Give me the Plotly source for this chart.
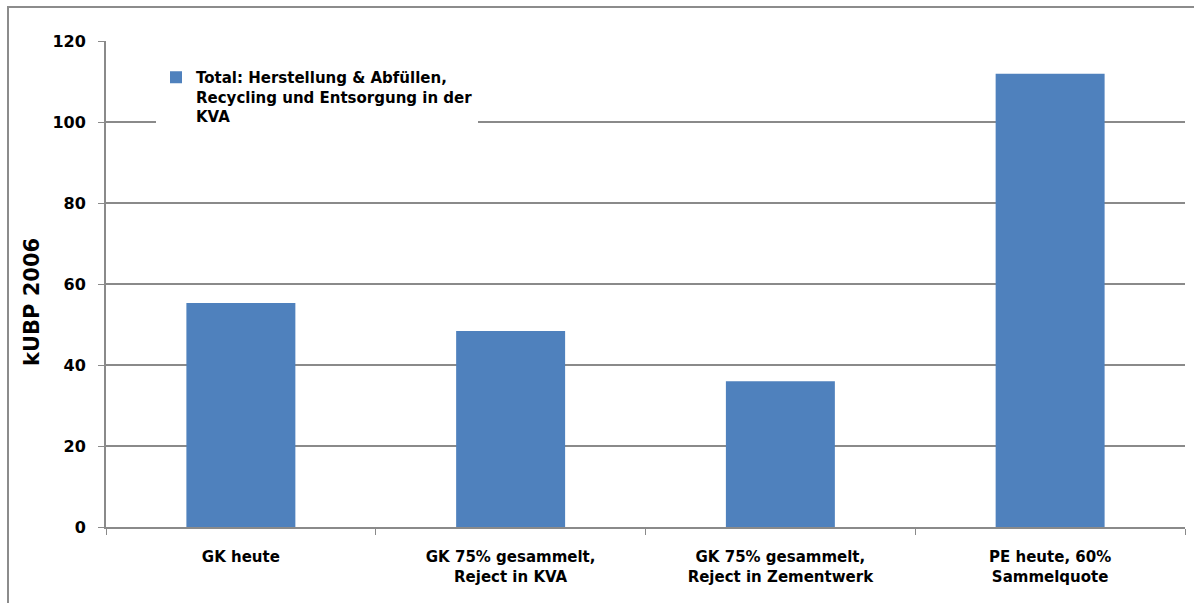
import plotly.graph_objects as go

# Environmental impact per packaging scenario (kUBP 2006)
categories = [
    "GK heute",
    "GK 75% gesammelt,<br>Reject in KVA",
    "GK 75% gesammelt,<br>Reject in Zementwerk",
    "PE heute, 60%<br>Sammelquote",
]
totals = [55.3, 48.4, 36.0, 111.9]
series_name = "Total: Herstellung & Abfüllen,<br>Recycling und Entsorgung in der<br>KVA"
y_ticks = [0, 20, 40, 60, 80, 100, 120]
y_title = "kUBP 2006"

BAR_COLOR = "#4F81BD"
GRID = "#8A8A8A"
FONT = "DejaVu Sans"

# plot area in pixels: x 106..1185, y 41..527
PX_W, PX_H = 1079, 486

fig = go.Figure()
fig.add_trace(go.Bar(
    x=categories,
    y=totals,
    name=series_name,
    marker=dict(color=BAR_COLOR, line=dict(width=0)),
    showlegend=True,
))

fig.update_layout(
    width=1194,
    height=603,
    margin=dict(l=106, r=9, t=41, b=76),
    paper_bgcolor="white",
    plot_bgcolor="white",
    bargap=0.596,
    font=dict(family=FONT, color="black"),
    legend=dict(
        x=(156 - 106) / PX_W,
        y=(527 - 61) / PX_H,
        xanchor="left",
        yanchor="top",
        bgcolor="white",
        font=dict(family=FONT, size=15, color="black", weight="bold"),
        valign="top",
        itemwidth=30,
        tracegroupgap=0,
    ),
    xaxis=dict(
        type="category",
        showgrid=False,
        showline=True,
        linecolor=GRID,
        linewidth=2,
        ticks="outside",
        tickson="boundaries",
        ticklen=6,
        tickcolor=GRID,
        tickwidth=1,
        tickfont=dict(family=FONT, size=15, color="black", weight="bold"),
        ticklabelstandoff=15,
    ),
    yaxis=dict(
        range=[0, 120],
        tickvals=y_ticks,
        ticktext=[str(v) for v in y_ticks],
        showgrid=True,
        gridcolor=GRID,
        gridwidth=2,
        showline=True,
        linecolor=GRID,
        linewidth=2,
        ticks="outside",
        ticklen=6,
        tickcolor=GRID,
        tickwidth=1,
        zeroline=False,
        tickfont=dict(family=FONT, size=16, color="black", weight="bold"),
        ticklabelstandoff=9,
    ),
)

# Rotated y-axis title
fig.add_annotation(
    text=y_title,
    xref="paper", yref="paper",
    x=(32 - 106) / PX_W, y=(527 - 302) / PX_H,
    xanchor="center", yanchor="middle",
    textangle=-90,
    showarrow=False,
    font=dict(family=FONT, size=21, color="black", weight="bold"),
)

# Outer chart frame
fig.add_shape(
    type="rect",
    xref="paper", yref="paper",
    x0=(8 - 106) / PX_W, x1=(1215 - 106) / PX_W,
    y0=(527 - 620) / PX_H, y1=(527 - 7) / PX_H,
    line=dict(color="#8C8C8C", width=2),
    fillcolor="rgba(0,0,0,0)",
    layer="below",
)

fig.write_html("out.html")
